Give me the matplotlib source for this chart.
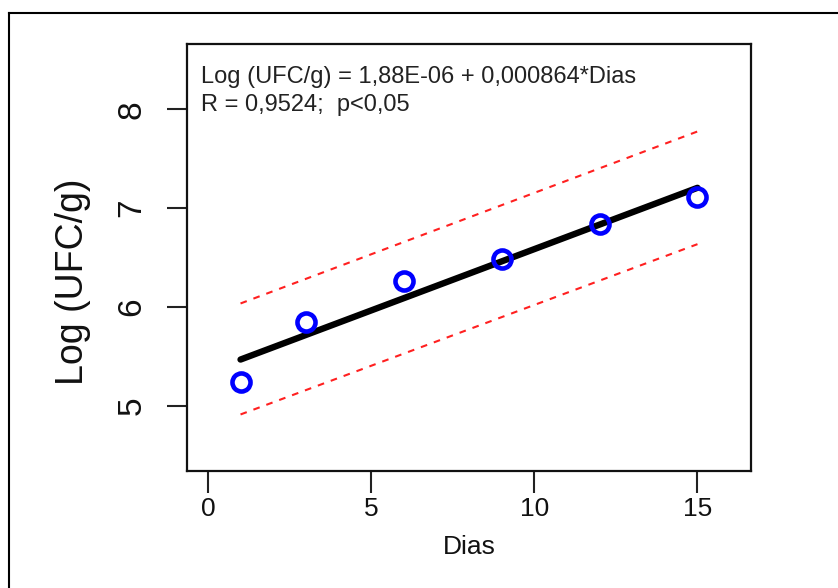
import numpy as np
import matplotlib
matplotlib.use("Agg")
import matplotlib.pyplot as plt
from matplotlib.lines import Line2D

plt.rcParams['font.family'] = ['Liberation Sans', 'DejaVu Sans']

# Data
dias = [1, 3, 6, 9, 12, 15]
log_ufc = [5.236, 5.844, 6.26, 6.486, 6.834, 7.11]
band_x = [1, 15]
band_upper = [6.035, 7.775]
band_lower = [4.912, 6.635]
xticks = [0, 5, 10, 15]
yticks = [5, 6, 7, 8]
eq_text = "Log (UFC/g) = 1,88E-06 + 0,000864*Dias"
r_text = "R = 0,9524;  p<0,05"

fig = plt.figure(figsize=(8.38, 5.88), dpi=100)
ax = fig.add_axes([187/838, 1-471/588, (751-187)/838, (471-44)/588])

# regression line
coef = np.polyfit(dias, log_ufc, 1)
xl = np.array([min(dias), max(dias)])
ax.plot(xl, np.polyval(coef, xl), color='black', lw=4.6, solid_capstyle='round', zorder=2)

# bands
ax.plot(band_x, band_upper, color='#ff2020', lw=1.5, ls=(0, (3.2, 3.4)), zorder=1)
ax.plot(band_x, band_lower, color='#ff2020', lw=1.5, ls=(0, (3.2, 3.4)), zorder=1)

# points
ax.plot(dias, log_ufc, ls='none', marker='o', ms=13, mfc='none', mec='#0000ff', mew=3.3, zorder=3)

ax.set_xlim(-0.64, 16.64)
ax.set_ylim(4.34, 8.66)

ax.set_xticks(xticks)
ax.set_xticklabels([str(t) for t in xticks], fontsize=19, color='#111111')
ax.set_yticks(yticks)
ax.set_yticklabels([str(t) for t in yticks], fontsize=24, rotation=90, va='center', color='#111111')
ax.tick_params(axis='x', length=16, width=1.5, pad=3, color='#222222')
ax.tick_params(axis='y', length=14.5, width=1.5, pad=14, color='#222222')
for s in ax.spines.values():
    s.set_linewidth(1.6)
    s.set_color('#111111')

ax.set_xlabel("Dias", fontsize=19, labelpad=10, color='#111111')
ax.set_ylabel("Log (UFC/g)", fontsize=27, color='#111111')
ax.yaxis.set_label_coords((91-187)/564, 0.444)

ax.text(0.0243, 0.909, eq_text, transform=ax.transAxes, fontsize=17, va='baseline', ha='left', color='#222222')
ax.text(0.0243, 0.843, r_text, transform=ax.transAxes, fontsize=17, va='baseline', ha='left', color='#222222')

# outer frame (partially cropped)
fig.add_artist(Line2D([9/838, 1.0], [1-12.5/588, 1-12.5/588], transform=fig.transFigure, color='black', lw=1.5))
fig.add_artist(Line2D([9/838, 9/838], [0, 1-12.5/588], transform=fig.transFigure, color='black', lw=1.5))

fig.savefig("out.png", dpi=100)
